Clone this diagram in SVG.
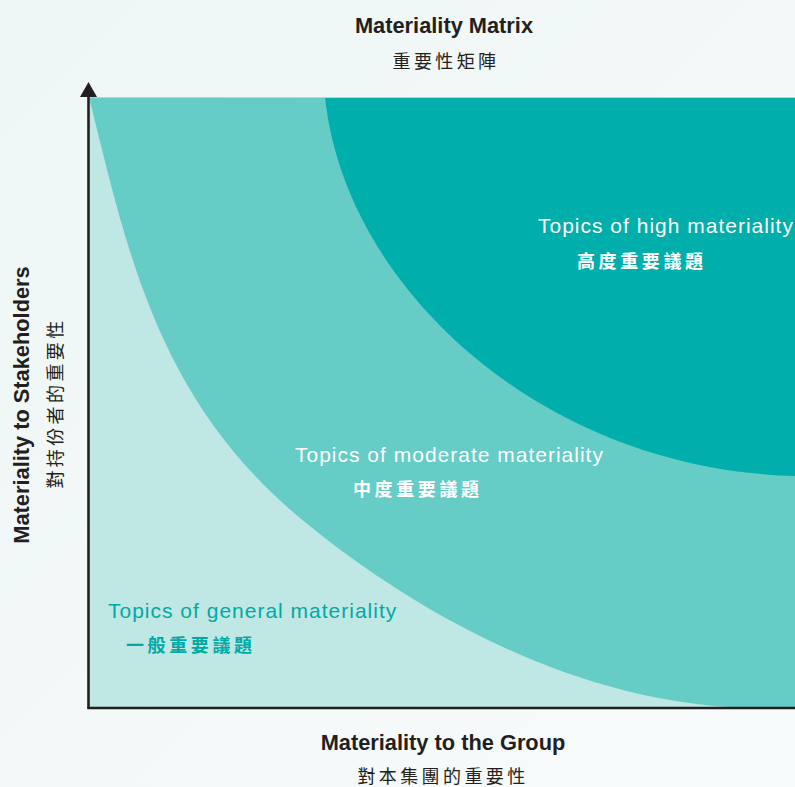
<svg xmlns="http://www.w3.org/2000/svg" width="795" height="787" viewBox="0 0 795 787">
<defs>
<linearGradient id="bg" x1="0" y1="0" x2="1" y2="1">
<stop offset="0" stop-color="#eef6f6"/>
<stop offset="1" stop-color="#f8fbfb"/>
</linearGradient>
<style>
.en{font-family:"Liberation Sans",Arial,sans-serif;}
.bold{font-weight:bold;fill:#231f20;font-size:21.8px;}
.cjk{font-family:"Noto Sans CJK TC","Noto Sans CJK SC",sans-serif;}
.cjkt{font-size:18px;fill:#231f20;letter-spacing:3.4px;}
.lbl{font-size:21px;letter-spacing:1px;}
.lblc{font-size:18px;font-weight:bold;letter-spacing:3.6px;}
.axis{stroke:#231f20;stroke-width:2.6;fill:none;}
</style>
</defs>
<rect x="0" y="0" width="795" height="787" fill="url(#bg)"/>
<g id="plot">
<rect id="general" x="89" y="97" width="706" height="611" fill="#bfe7e4"/>
<path id="moderate" d="M89,97 C126.5,247 156,398 300,518 C384,588 560,708 760,708 L795,708 L795,97 Z" fill="#65ccc6"/>
<path id="high" d="M325,97 C345,290 545,470 795,476 L795,97 Z" fill="#00aeab"/>
<line x1="89" y1="97.5" x2="795" y2="97.5" stroke="#a8dcd9" stroke-width="1"/>
</g>
<g id="connectors">
<line class="axis" x1="88.5" y1="95" x2="88.5" y2="708"/>
<line class="axis" x1="87.2" y1="708" x2="795" y2="708"/>
<polygon points="88.5,82 80,97 97,97" fill="#231f20"/>
</g>
<g id="title">
<text class="en bold" x="444" y="33" text-anchor="middle">Materiality Matrix</text>
<text class="cjk cjkt" x="446" y="68" text-anchor="middle">重要性矩陣</text>
</g>
<g id="x-label">
<text class="en bold" x="443" y="750" text-anchor="middle">Materiality to the Group</text>
<text class="cjk cjkt" x="443" y="783" text-anchor="middle">對本集團的重要性</text>
</g>
<g id="y-label">
<text class="en bold" transform="translate(29,405) rotate(-90)" text-anchor="middle">Materiality to Stakeholders</text>
<text class="cjk cjkt" transform="translate(62,403) rotate(-90)" text-anchor="middle">對持份者的重要性</text>
</g>
<g id="node-high">
<text class="en lbl" x="538" y="233" fill="#ffffff">Topics of high materiality</text>
<text class="cjk lblc" x="577" y="268" fill="#ffffff">高度重要議題</text>
</g>
<g id="node-moderate">
<text class="en lbl" x="295" y="462" fill="#ffffff">Topics of moderate materiality</text>
<text class="cjk lblc" x="353" y="496" fill="#ffffff">中度重要議題</text>
</g>
<g id="node-general">
<text class="en lbl" x="108" y="618" fill="#00a9a5">Topics of general materiality</text>
<text class="cjk lblc" x="126" y="652" fill="#00a9a5">一般重要議題</text>
</g>
</svg>
